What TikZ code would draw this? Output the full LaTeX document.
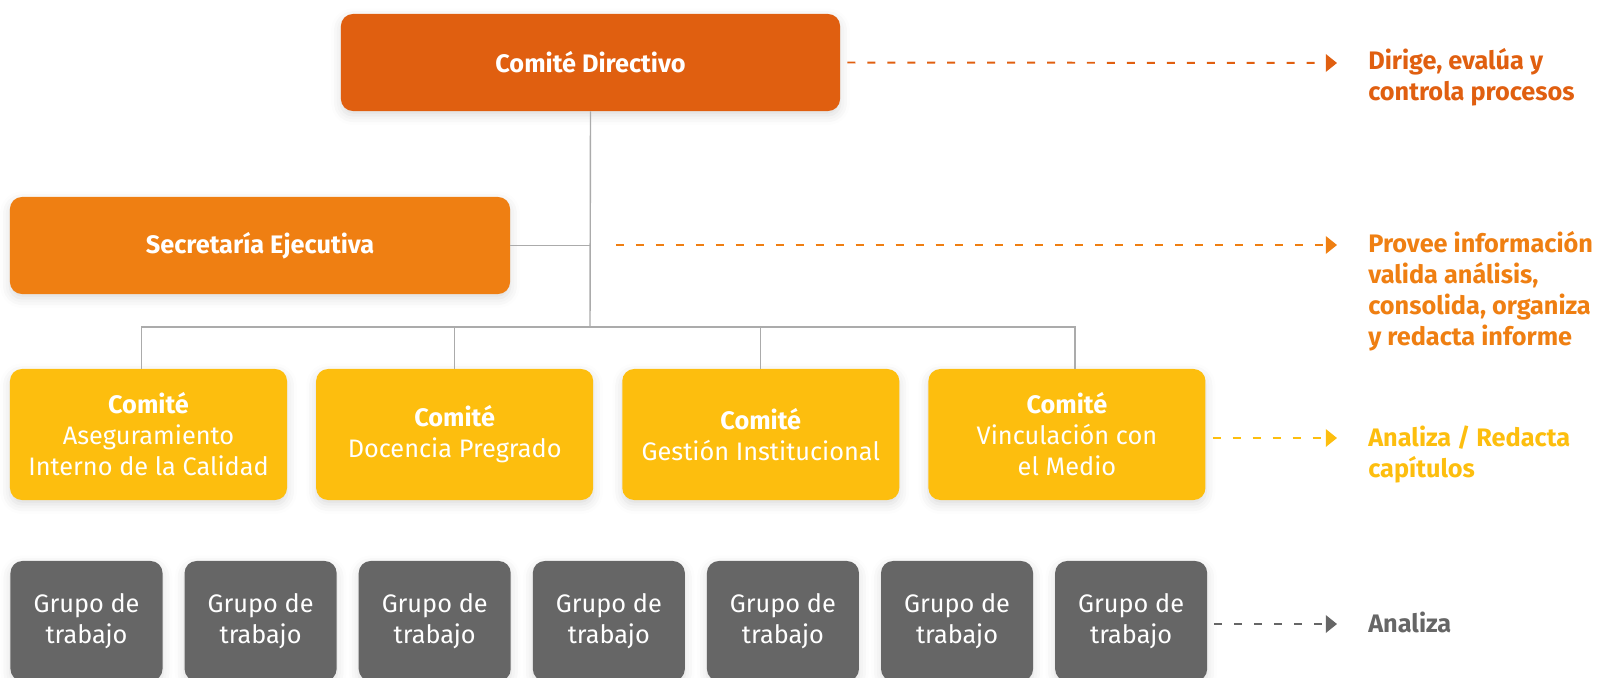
\documentclass[tikz,border=0pt]{standalone}
\usepackage{fontspec}
\setmainfont{Fira Sans}
\usepackage{xcolor}
\usepackage{tikz}
\usetikzlibrary{positioning,arrows.meta,shadows.blur}

\definecolor{dirorange}{HTML}{E05F10}
\definecolor{secorange}{HTML}{EF7F12}
\definecolor{comyellow}{HTML}{FDBE0E}
\definecolor{grupogray}{HTML}{666666}
\definecolor{linegray}{HTML}{ABABAB}

\begin{document}
\begin{tikzpicture}[x=0.025cm, y=-0.025cm,
    box/.style={rectangle, rounded corners=0.3cm, text=white, align=center,
        font=\fontsize{18}{22}\selectfont,
        blur shadow={shadow xshift=0pt, shadow yshift=-3pt, shadow blur radius=7pt, shadow opacity=14}},
    comite/.style={box, fill=comyellow, minimum width=6.925cm, minimum height=3.275cm},
    grupo/.style={box, fill=grupogray, minimum width=3.8cm, minimum height=3cm},
    note/.style={anchor=base west, align=left, inner sep=0pt, font=\fontsize{18}{22}\selectfont\bfseries},
    conn/.style={draw=linegray, line width=1pt},
    flow/.style={line width=1.4pt, dash pattern=on 5.7pt off 8.5pt, shorten <=0.175cm, -{Triangle[length=8pt, width=12.5pt]}}]
    \useasboundingbox (0,0) rectangle (1615,677);

    % directivo y secretaria
    \node [box, fill=dirorange, minimum width=12.475cm, minimum height=2.425cm, font=\fontsize{18}{22}\selectfont\bfseries] (dir) at (590.5,62.5) {Comité Directivo};
    \node [box, fill=secorange, minimum width=12.5cm, minimum height=2.425cm, font=\fontsize{18}{22}\selectfont\bfseries] (sec) at (260,245.5) {Secretaría Ejecutiva};

    % comites
    \node [comite] (c1) at (148.5,434.5) {\textbf{Comité}\\Aseguramiento\\Interno de la Calidad};
    \node [comite, right=0.7125cm of c1] (c2) {\textbf{Comité}\\Docencia Pregrado};
    \node [comite, right=0.7125cm of c2] (c3) {\textbf{Comité}\\Gestión Institucional};
    \node [comite, right=0.7125cm of c3] (c4) {\textbf{Comité}\\Vinculación con\\el Medio};

    % grupos de trabajo
    \node [grupo] (g1) at (86.5,621) {Grupo de\\trabajo};
    \node [grupo, right=0.5375cm of g1] (g2) {Grupo de\\trabajo};
    \node [grupo, right=0.5375cm of g2] (g3) {Grupo de\\trabajo};
    \node [grupo, right=0.5375cm of g3] (g4) {Grupo de\\trabajo};
    \node [grupo, right=0.5375cm of g4] (g5) {Grupo de\\trabajo};
    \node [grupo, right=0.5375cm of g5] (g6) {Grupo de\\trabajo};
    \node [grupo, right=0.5375cm of g6] (g7) {Grupo de\\trabajo};

    % lineas de la estructura
    \coordinate (bus) at (590,327);
    \draw [conn] (dir.south) -- (bus);
    \draw [conn] (sec.east) -- (sec.east -| dir.south);
    \draw [conn] ([xshift=-0.18cm]c1.north) |- (bus) -| ([xshift=0.2cm]c4.north);
    \draw [conn] (c2.north) -- (c2.north |- bus);
    \draw [conn] (c3.north) -- (c3.north |- bus);

    % funciones (base = ultima linea)
    \node [note, text=dirorange] (fDir) at (1368,100) {Dirige, evalúa y\\controla procesos};
    \node [note, text=secorange] (fSec) at (1368,345) {Provee información\\valida análisis,\\consolida, organiza\\y redacta informe};
    \node [note, text=comyellow] (fCom) at (1368,477) {Analiza / Redacta\\capítulos};
    \node [note, text=grupogray] (fGru) at (1368,632) {Analiza};

    \coordinate (eDir) at (1337,63);
    \coordinate (sSec) at (616,245);
    \coordinate (eSec) at (1337,245);
    \coordinate (eCom) at (1337,438);
    \coordinate (eGru) at (1337,624);
    \draw [flow, dirorange] (dir.east) -- (eDir);
    \draw [flow, secorange, shorten <=0pt] (sSec) -- (eSec);
    \draw [flow, comyellow] (c4.east |- eCom) -- (eCom);
    \draw [flow, grupogray] (g7.east |- eGru) -- (eGru);
\end{tikzpicture}
\end{document}
